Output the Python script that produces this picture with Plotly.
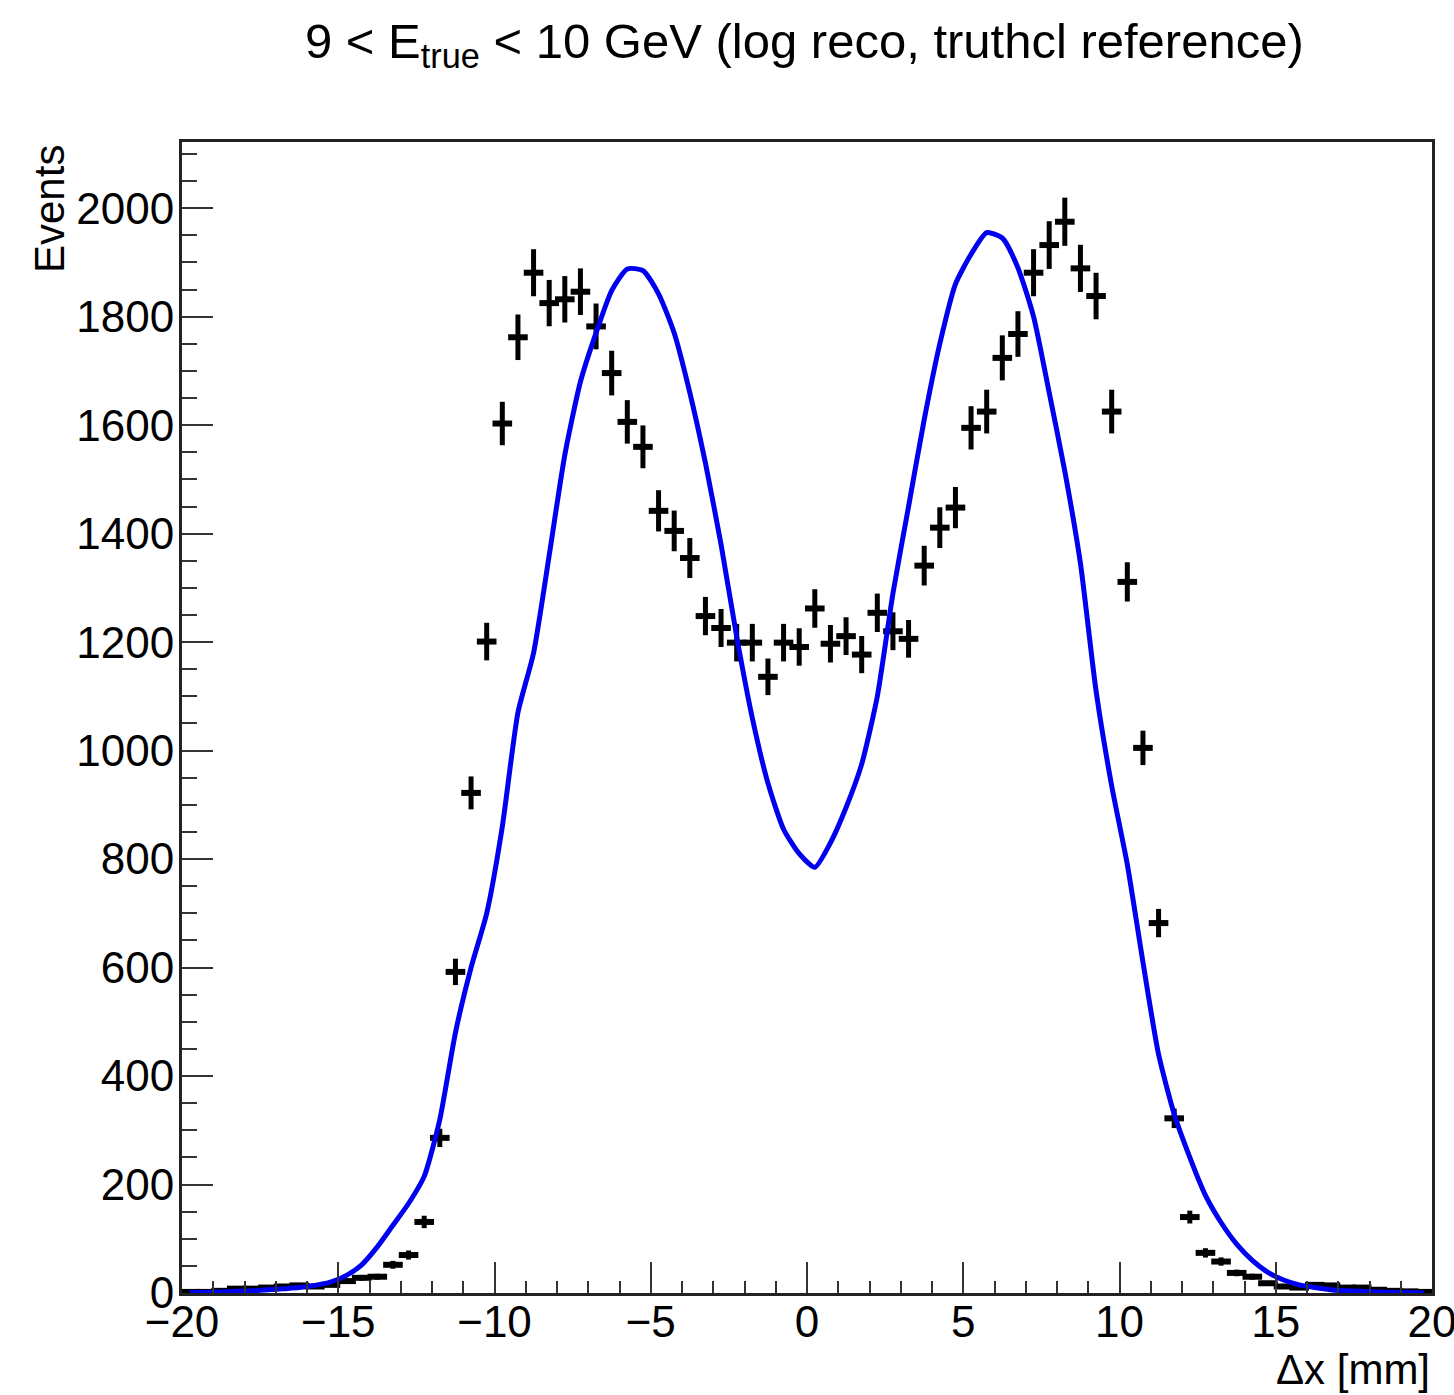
import plotly.graph_objects as go

# bin centres (0.5 mm bins from -20 to 20)
bin_centers = [-19.75, -19.25, -18.75, -18.25, -17.75, -17.25, -16.75, -16.25, -15.75, -15.25,
               -14.75, -14.25, -13.75, -13.25, -12.75, -12.25, -11.75, -11.25, -10.75, -10.25,
               -9.75, -9.25, -8.75, -8.25, -7.75, -7.25, -6.75, -6.25, -5.75, -5.25,
               -4.75, -4.25, -3.75, -3.25, -2.75, -2.25, -1.75, -1.25, -0.75, -0.25,
               0.25, 0.75, 1.25, 1.75, 2.25, 2.75, 3.25, 3.75, 4.25, 4.75,
               5.25, 5.75, 6.25, 6.75, 7.25, 7.75, 8.25, 8.75, 9.25, 9.75,
               10.25, 10.75, 11.25, 11.75, 12.25, 12.75, 13.25, 13.75, 14.25, 14.75,
               15.25, 15.75, 16.25, 16.75, 17.25, 17.75, 18.25, 18.75, 19.25, 19.75]

# data (log reco) counts
data_counts = [2, 2, 4, 8, 8, 10, 12, 14, 12, 15,
               22, 28, 30, 52, 70, 131, 286, 592, 922, 1201,
               1603, 1762, 1881, 1825, 1832, 1846, 1782, 1696, 1606, 1560,
               1442, 1405, 1355, 1248, 1226, 1199, 1199, 1136, 1199, 1191,
               1262, 1197, 1211, 1177, 1254, 1220, 1206, 1341, 1411, 1448,
               1595, 1625, 1724, 1768, 1881, 1932, 1975, 1889, 1838, 1625,
               1311, 1005, 682, 322, 140, 74, 58, 37, 30, 18,
               12, 10, 15, 14, 10, 10, 6, 4, 3, 2]

# reference (truthcl) counts
ref_counts = [1, 1, 2, 3, 4, 6, 8, 10, 14, 20,
              32, 52, 85, 125, 165, 215, 320, 480, 600, 700,
              860, 1070, 1180, 1360, 1545, 1680, 1770, 1848, 1888, 1885,
              1842, 1770, 1660, 1530, 1380, 1210, 1060, 940, 855, 810,
              785, 830, 895, 975, 1100, 1290, 1450, 1610, 1750, 1860,
              1915, 1955, 1945, 1890, 1800, 1660, 1515, 1345, 1110, 935,
              790, 610, 440, 330, 250, 180, 130, 90, 60, 38,
              24, 15, 10, 6, 4, 3, 2, 1, 1, 0]

FONT = "Liberation Sans, Arial, Helvetica, sans-serif"

fig = go.Figure()

fig.add_trace(go.Scatter(
    x=bin_centers, y=data_counts, mode="markers",
    marker=dict(symbol="line-ew", size=14, color="black",
                line=dict(color="black", width=6)),
    error_y=dict(type="sqrt", visible=True, color="black", thickness=5, width=0),
    showlegend=False,
))

fig.add_trace(go.Scatter(
    x=bin_centers, y=ref_counts, mode="lines",
    line=dict(color="#0000f0", width=5, shape="spline", smoothing=0.6),
    showlegend=False,
))

fig.update_layout(
    width=1454, height=1395,
    margin=dict(l=182, r=22, t=142, b=102),
    paper_bgcolor="white", plot_bgcolor="white",
    font=dict(family=FONT, size=44, color="black"),
    xaxis=dict(range=[-20, 20], tick0=0, dtick=5, ticks="inside", ticklen=31,
               tickwidth=2, tickcolor="#333", showgrid=False, zeroline=False,
               showline=True, linewidth=3, linecolor="#222", mirror=True,
               minor=dict(dtick=1, ticks="inside", ticklen=12, tickwidth=2, tickcolor="#333"),
               tickfont=dict(size=44), ticklabelstandoff=-12,
               ticklabeloverflow="allow", automargin=False),
    yaxis=dict(range=[0, 2122], tick0=0, dtick=200, ticks="inside", ticklen=31,
               tickwidth=2, tickcolor="#333", showgrid=False, zeroline=False,
               showline=True, linewidth=3, linecolor="#222", mirror=True,
               minor=dict(dtick=50, ticks="inside", ticklen=15, tickwidth=2, tickcolor="#333"),
               tickfont=dict(size=44), ticklabelstandoff=-4, automargin=False),
    annotations=[
        dict(text="9 < E<sub>true</sub> < 10 GeV (log reco, truthcl reference)",
             xref="paper", yref="paper", x=(804 - 182) / 1250, y=(1293 - 44) / 1151,
             xanchor="center", yanchor="middle", showarrow=False,
             font=dict(size=49)),
        dict(text="Events", xref="paper", yref="paper",
             x=(50 - 182) / 1250, y=(1293 - 143) / 1151, textangle=-90,
             xanchor="center", yanchor="top", showarrow=False,
             font=dict(size=42)),
        dict(text="Δx [mm]", xref="paper", yref="paper",
             x=1.0, y=(1293 - 1369) / 1151, xanchor="right", yanchor="middle",
             showarrow=False, font=dict(size=42)),
    ],
)

fig.write_html("out.html")
